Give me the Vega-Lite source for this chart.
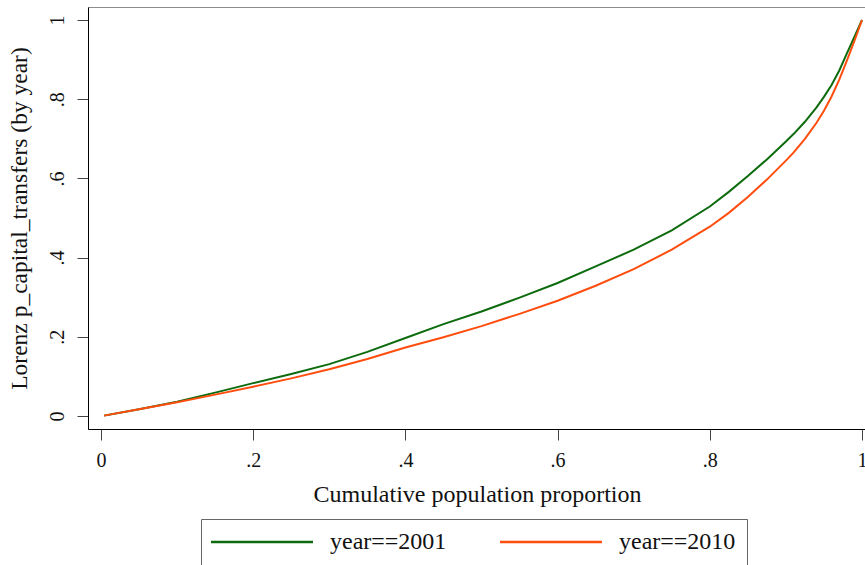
{
  "$schema": "https://vega.github.io/schema/vega-lite/v6.json",
  "autosize": {"type": "none"},
  "padding": {"left": 88, "top": 7, "right": 0, "bottom": 136},
  "width": 778,
  "height": 422,
  "background": "white",
  "config": {
    "view": {"stroke": "#8c8c8c", "strokeWidth": 1},
    "font": "Liberation Serif"
  },
  "data": {
    "values": [
      {"p": 0.004, "L": 0.001, "series": "year==2001"},
      {"p": 0.05, "L": 0.017, "series": "year==2001"},
      {"p": 0.1, "L": 0.036, "series": "year==2001"},
      {"p": 0.15, "L": 0.059, "series": "year==2001"},
      {"p": 0.2, "L": 0.083, "series": "year==2001"},
      {"p": 0.25, "L": 0.106, "series": "year==2001"},
      {"p": 0.3, "L": 0.131, "series": "year==2001"},
      {"p": 0.35, "L": 0.162, "series": "year==2001"},
      {"p": 0.4, "L": 0.197, "series": "year==2001"},
      {"p": 0.45, "L": 0.232, "series": "year==2001"},
      {"p": 0.5, "L": 0.264, "series": "year==2001"},
      {"p": 0.55, "L": 0.299, "series": "year==2001"},
      {"p": 0.6, "L": 0.336, "series": "year==2001"},
      {"p": 0.65, "L": 0.378, "series": "year==2001"},
      {"p": 0.7, "L": 0.42, "series": "year==2001"},
      {"p": 0.75, "L": 0.469, "series": "year==2001"},
      {"p": 0.8, "L": 0.529, "series": "year==2001"},
      {"p": 0.825, "L": 0.566, "series": "year==2001"},
      {"p": 0.85, "L": 0.606, "series": "year==2001"},
      {"p": 0.875, "L": 0.648, "series": "year==2001"},
      {"p": 0.9, "L": 0.693, "series": "year==2001"},
      {"p": 0.91, "L": 0.712, "series": "year==2001"},
      {"p": 0.925, "L": 0.743, "series": "year==2001"},
      {"p": 0.94, "L": 0.779, "series": "year==2001"},
      {"p": 0.95, "L": 0.806, "series": "year==2001"},
      {"p": 0.96, "L": 0.836, "series": "year==2001"},
      {"p": 0.97, "L": 0.872, "series": "year==2001"},
      {"p": 0.98, "L": 0.915, "series": "year==2001"},
      {"p": 0.99, "L": 0.957, "series": "year==2001"},
      {"p": 1.0, "L": 1.0, "series": "year==2001"},
      {"p": 0.004, "L": 0.001, "series": "year==2010"},
      {"p": 0.05, "L": 0.017, "series": "year==2010"},
      {"p": 0.1, "L": 0.035, "series": "year==2010"},
      {"p": 0.15, "L": 0.054, "series": "year==2010"},
      {"p": 0.2, "L": 0.074, "series": "year==2010"},
      {"p": 0.25, "L": 0.095, "series": "year==2010"},
      {"p": 0.3, "L": 0.118, "series": "year==2010"},
      {"p": 0.35, "L": 0.144, "series": "year==2010"},
      {"p": 0.4, "L": 0.173, "series": "year==2010"},
      {"p": 0.45, "L": 0.199, "series": "year==2010"},
      {"p": 0.5, "L": 0.227, "series": "year==2010"},
      {"p": 0.55, "L": 0.258, "series": "year==2010"},
      {"p": 0.6, "L": 0.291, "series": "year==2010"},
      {"p": 0.65, "L": 0.329, "series": "year==2010"},
      {"p": 0.7, "L": 0.371, "series": "year==2010"},
      {"p": 0.75, "L": 0.42, "series": "year==2010"},
      {"p": 0.8, "L": 0.478, "series": "year==2010"},
      {"p": 0.825, "L": 0.513, "series": "year==2010"},
      {"p": 0.85, "L": 0.553, "series": "year==2010"},
      {"p": 0.875, "L": 0.597, "series": "year==2010"},
      {"p": 0.9, "L": 0.645, "series": "year==2010"},
      {"p": 0.91, "L": 0.665, "series": "year==2010"},
      {"p": 0.925, "L": 0.7, "series": "year==2010"},
      {"p": 0.94, "L": 0.74, "series": "year==2010"},
      {"p": 0.95, "L": 0.771, "series": "year==2010"},
      {"p": 0.96, "L": 0.807, "series": "year==2010"},
      {"p": 0.97, "L": 0.849, "series": "year==2010"},
      {"p": 0.98, "L": 0.897, "series": "year==2010"},
      {"p": 0.99, "L": 0.947, "series": "year==2010"},
      {"p": 1.0, "L": 1.0, "series": "year==2010"}
    ]
  },
  "mark": {"type": "line", "strokeWidth": 2, "interpolate": "linear"},
  "encoding": {
    "x": {
      "field": "p",
      "type": "quantitative",
      "scale": {"domain": [-0.01708, 1.00526], "nice": false, "zero": false},
      "axis": {
        "values": [0, 0.2, 0.4, 0.6, 0.8, 1],
        "labelExpr": "datum.value == 0 ? '0' : datum.value == 1 ? '1' : replace(format(datum.value, '.1f'), '0.', '.')",
        "title": "Cumulative population proportion",
        "grid": false,
        "domainColor": "#000000",
        "domainWidth": 1,
        "tickColor": "#444444",
        "tickSize": 11,
        "labelFontSize": 20,
        "labelPadding": 10,
        "labelColor": "#111111",
        "labelFlush": false,
        "titleFontSize": 24,
        "titleFontWeight": "normal",
        "titleColor": "#111111",
        "titlePadding": 12
      }
    },
    "y": {
      "field": "L",
      "type": "quantitative",
      "scale": {"domain": [-0.0328, 1.03286], "nice": false, "zero": false},
      "axis": {
        "values": [0, 0.2, 0.4, 0.6, 0.8, 1],
        "labelExpr": "datum.value == 0 ? '0' : datum.value == 1 ? '1' : replace(format(datum.value, '.1f'), '0.', '.')",
        "title": "Lorenz p_capital_transfers (by year)",
        "grid": false,
        "domainColor": "#000000",
        "domainWidth": 1,
        "tickColor": "#444444",
        "tickSize": 11,
        "labelAngle": -90,
        "labelFontSize": 20,
        "labelPadding": 10,
        "labelColor": "#111111",
        "labelFlush": false,
        "titleFontSize": 23.5,
        "titleFontWeight": "normal",
        "titleColor": "#111111",
        "titlePadding": 16
      }
    },
    "color": {
      "field": "series",
      "type": "nominal",
      "scale": {"domain": ["year==2001", "year==2010"], "range": ["#0d6b0d", "#ff4d0d"]},
      "legend": {
        "title": null,
        "orient": "none",
        "legendX": 113,
        "legendY": 512,
        "direction": "horizontal",
        "symbolType": "M-5,0H5",
        "symbolSize": 416,
        "symbolStrokeWidth": 2.5,
        "symbolOffset": 38,
        "labelFontSize": 24,
        "labelColor": "#111111",
        "labelOffset": 56,
        "columnPadding": 48,
        "padding": 11,
        "strokeColor": "#666666",
        "labelExpr": "datum.label == 'year==2010' ? datum.label + '\u00a0\u00a0\u00a0\u00a0' : datum.label"
      }
    }
  }
}
